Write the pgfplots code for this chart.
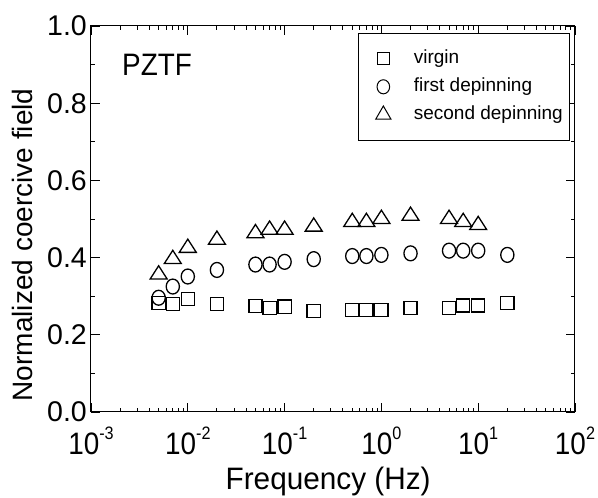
\documentclass[border=0pt]{standalone}
\usepackage{fontspec}
\setmainfont{Liberation Sans}
\newfontfamily\condsans{Liberation Sans}[FakeStretch=0.9]
\newfontfamily\xlabsans{Liberation Sans}[FakeStretch=0.96]
\usepackage{pgfplots}
\pgfplotsset{compat=1.18}

% power of ten with a readable exponent
\newcommand\ex[1]{10\raisebox{15pt}{\fontsize{18}{18}\selectfont #1}}

% frequency (Hz) vs normalized coercive field
\pgfplotstableread{
f      v
0.005  0.283
0.007  0.280
0.01   0.293
0.02   0.280
0.05   0.275
0.07   0.270
0.1    0.273
0.2    0.262
0.5    0.264
0.7    0.264
1.0    0.264
2      0.270
5      0.270
7      0.276
10     0.276
20     0.283
}\virgin
\pgfplotstableread{
f      v
0.005  0.296
0.007  0.325
0.01   0.351
0.02   0.368
0.05   0.382
0.07   0.382
0.1    0.389
0.2    0.396
0.5    0.404
0.7    0.404
1.0    0.407
2      0.411
5      0.418
7      0.418
10     0.418
20     0.407
}\firstdep
\pgfplotstableread{
f      v
0.005  0.356
0.007  0.396
0.01   0.425
0.02   0.446
0.05   0.463
0.07   0.472
0.1    0.472
0.2    0.480
0.5    0.492
0.7    0.492
1.0    0.500
2      0.508
5      0.500
7      0.492
10     0.484
}\seconddep

\begin{document}
\begin{tikzpicture}
\begin{axis}[
    scale only axis,
    width=484pt, height=386pt,
    xmode=log,
    xmin=1e-3, xmax=1e2,
    ymin=0, ymax=1.0,
    xtick={1e-3,1e-2,1e-1,1e0,1e1,1e2},
    xticklabels={\ex{-3},\ex{-2},\ex{-1},\ex{0},\ex{1},\ex{2}},
    ytick={0,0.2,0.4,0.6,0.8,1.0},
    minor ytick={0.1,0.3,0.5,0.7,0.9},
    yticklabel style={font=\fontsize{28.5}{28.5}\selectfont, inner xsep=4pt,
        /pgf/number format/.cd, fixed, fixed zerofill, precision=1, assume math mode=true},
    xticklabel style={font=\condsans\fontsize{31}{31}\selectfont, anchor=base, yshift=-43pt},
    tick align=inside,
    major tick length=9pt,
    minor tick length=4pt,
    axis line style={line width=1pt},
    every tick/.style={black, line width=0.9pt},
    xlabel={Frequency (Hz)},
    ylabel={Normalized coercive field},
    xlabel style={font=\xlabsans\fontsize{31}{31}\selectfont, inner sep=0pt,
        at={(axis description cs:0.49,-0.202)}, anchor=base},
    ylabel style={font=\fontsize{28}{28}\selectfont, inner sep=0pt,
        at={(axis description cs:-0.12,0.433)}, anchor=base},
    legend style={at={(rel axis cs:0.99,0.982)}, anchor=north east,
        font=\fontsize{19}{19}\selectfont, draw=black, line width=0.7pt,
        row sep=9pt, column sep=0pt, inner xsep=7pt, inner ysep=16pt,
        nodes={inner sep=0pt, text height=14pt, text depth=5pt}},
    legend cell align=left,
    legend image code/.code={\path (0pt,0pt) (48pt,0pt); \draw plot coordinates {(18pt,0pt)};},
]
\addlegendimage{only marks, mark=square, mark size=6pt, line width=1pt}
\addlegendentry{virgin}
\addlegendimage{only marks, mark=o, mark size=6.3pt, mark options={yscale=1.12}, line width=1pt}
\addlegendentry{first depinning}
\addlegendimage{only marks, mark=triangle, mark size=8.8pt, line width=1pt}
\addlegendentry{second depinning}
\addplot[only marks, mark=square, mark size=6.6pt, line width=1.3pt, forget plot] table[x=f, y=v] {\virgin};
\addplot[only marks, mark=o, mark size=6.6pt, mark options={yscale=1.13}, line width=1.3pt, forget plot] table[x=f, y=v] {\firstdep};
\addplot[only marks, mark=triangle, mark size=9.8pt, mark options={yscale=0.9}, line width=1.3pt, forget plot] table[x=f, y=v] {\seconddep};
\node[anchor=base west, inner sep=0pt, font=\condsans\fontsize{31}{31}\selectfont] at (rel axis cs:0.064,0.873) {PZTF};
\end{axis}
\path (current axis.south west) ++(-91pt,-86pt) coordinate (bl);
\path (current axis.north east) ++(23pt,26pt) coordinate (tr);
\pgfresetboundingbox
\path (bl) rectangle (tr);
\end{tikzpicture}
\end{document}
